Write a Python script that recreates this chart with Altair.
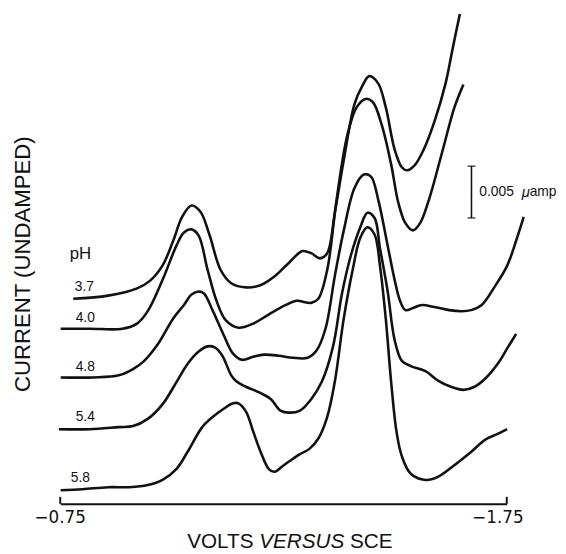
import altair as alt
import pandas as pd

# Polarographic curves: potential (V vs SCE) and current (nA, i.e. 0.001 uA)
PH = ["3.7", "4.0", "4.8", "5.4", "5.8"]

V37 = [-0.779, -0.857, -0.922, -0.950, -0.979, -1.003, -1.023, -1.044, -1.064, -1.084,
       -1.109, -1.133, -1.166, -1.198, -1.231, -1.263, -1.292, -1.312, -1.332, -1.348,
       -1.365, -1.385, -1.409, -1.426, -1.442, -1.462, -1.479, -1.499, -1.515, -1.527,
       -1.544, -1.564, -1.588, -1.613, -1.629, -1.645]
I37 = [19.8, 20.1, 20.8, 21.5, 23.0, 25.4, 27.7, 28.8, 28.2, 26.0,
       22.6, 21.3, 20.9, 21.1, 22.0, 23.3, 24.4, 24.2, 23.7, 24.2,
       28.1, 33.2, 38.6, 40.3, 41.3, 40.6, 38.3, 34.2, 32.5, 32.2,
       32.7, 34.2, 36.9, 40.6, 44.0, 47.3]

V40 = [-0.751, -0.816, -0.889, -0.922, -0.946, -0.979, -1.011, -1.027, -1.044, -1.060,
       -1.080, -1.100, -1.121, -1.149, -1.182, -1.214, -1.255, -1.279, -1.312, -1.328,
       -1.348, -1.369, -1.393, -1.414, -1.434, -1.450, -1.470, -1.491, -1.507, -1.523,
       -1.540, -1.556, -1.576, -1.605, -1.633, -1.653]
I40 = [16.9, 16.9, 16.9, 17.4, 18.6, 21.6, 25.0, 26.2, 26.5, 25.9,
       22.6, 19.6, 17.7, 17.0, 17.4, 18.2, 19.2, 19.6, 19.4, 19.8,
       22.6, 29.4, 35.6, 38.3, 39.1, 38.8, 36.6, 32.8, 29.1, 27.1,
       26.4, 27.1, 29.4, 33.9, 38.3, 40.5]

V48 = [-0.751, -0.824, -0.881, -0.913, -0.938, -0.970, -1.003, -1.027, -1.044, -1.060,
       -1.072, -1.092, -1.117, -1.137, -1.157, -1.182, -1.206, -1.239, -1.271, -1.304,
       -1.324, -1.344, -1.365, -1.385, -1.409, -1.430, -1.446, -1.462, -1.483, -1.499,
       -1.511, -1.523, -1.540, -1.560, -1.588, -1.621, -1.649, -1.670, -1.694, -1.722,
       -1.751, -1.771, -1.788]
I48 = [12.2, 12.2, 12.4, 13.0, 13.8, 15.5, 17.9, 19.2, 20.2, 20.5,
       20.3, 18.6, 16.2, 14.5, 13.9, 14.2, 14.4, 14.3, 14.1, 14.1,
       14.8, 16.9, 22.0, 26.4, 30.5, 31.8, 31.6, 29.4, 25.0, 21.6,
       19.6, 18.7, 18.9, 19.2, 19.0, 18.7, 18.6, 18.7, 19.2, 20.9,
       23.0, 25.4, 27.7]

V54 = [-0.747, -0.816, -0.881, -0.913, -0.946, -0.979, -1.011, -1.035, -1.060, -1.080,
       -1.096, -1.113, -1.133, -1.145, -1.166, -1.198, -1.222, -1.243, -1.263, -1.287,
       -1.312, -1.336, -1.361, -1.381, -1.401, -1.422, -1.438, -1.454, -1.466, -1.483,
       -1.499, -1.515, -1.535, -1.568, -1.596, -1.625, -1.653, -1.678, -1.702, -1.731,
       -1.751, -1.771]
I54 = [7.2, 7.2, 7.4, 7.5, 8.2, 9.6, 11.8, 13.5, 14.7, 15.2,
       15.1, 14.3, 12.4, 11.8, 11.3, 10.7, 10.1, 9.0, 8.8, 9.0,
       10.1, 11.8, 15.2, 20.3, 24.0, 26.7, 28.1, 27.6, 24.7, 20.6,
       15.8, 13.8, 13.3, 12.8, 11.9, 11.3, 11.0, 11.3, 12.1, 13.6,
       15.0, 16.4]

V58 = [-0.751, -0.800, -0.857, -0.905, -0.946, -0.979, -1.011, -1.035, -1.068, -1.092,
       -1.117, -1.137, -1.149, -1.166, -1.182, -1.198, -1.218, -1.231, -1.247, -1.263,
       -1.287, -1.308, -1.328, -1.348, -1.365, -1.385, -1.405, -1.422, -1.438, -1.454,
       -1.466, -1.479, -1.491, -1.503, -1.515, -1.535, -1.568, -1.596, -1.629, -1.670,
       -1.702, -1.727, -1.751]
I58 = [1.3, 1.4, 1.6, 1.6, 1.8, 2.3, 3.4, 5.0, 7.4, 8.4,
       9.2, 9.7, 9.7, 8.9, 7.0, 5.1, 3.3, 3.1, 3.6, 4.1,
       4.8, 5.3, 6.3, 8.4, 11.8, 17.9, 22.6, 25.7, 26.7, 26.0,
       23.0, 17.9, 11.8, 7.0, 4.6, 2.9, 2.3, 2.6, 3.6, 5.0,
       6.2, 6.7, 7.2]

# curve labels (anchor in volts / nA)
LABEL_V = [-0.804, -0.806, -0.806, -0.806, -0.795]
LABEL_I = [20.9, 17.9, 13.2, 8.4, 2.5]
PH_HEAD = "pH"
PH_HEAD_V, PH_HEAD_I = -0.795, 24.1

X_TICKS = [-0.75, -1.75]
X_TICK_LABELS = ["\u22120.75", "\u22121.75"]

# scale bar: 0.005 uA = 5 nA
BAR_V = -1.671
BAR_LO, BAR_HI = 27.6, 32.6

rows = []
for ph, vs, cs in zip(PH, [V37, V40, V48, V54, V58], [I37, I40, I48, I54, I58]):
    for k, (v, c) in enumerate(zip(vs, cs)):
        rows.append({"ph": ph, "v": v, "i": c, "k": k})
df = pd.DataFrame(rows)

lab_df = pd.DataFrame({"t": PH + [PH_HEAD], "v": LABEL_V + [PH_HEAD_V],
                       "i": LABEL_I + [PH_HEAD_I],
                       "s": [14] * len(PH) + [17]})
tick_df = pd.DataFrame({"v": X_TICKS, "t": X_TICK_LABELS})
bar_df = pd.DataFrame({"v": [BAR_V], "lo": [BAR_LO], "hi": [BAR_HI],
                       "mid": [(BAR_LO + BAR_HI) / 2]})
cap_df = pd.DataFrame({"v": [BAR_V, BAR_V], "i": [BAR_LO, BAR_HI]})

INK = "#111111"
FONT = "Liberation Sans"
W, H = 453, 499

xs = alt.Scale(domain=[-0.75, -1.75], nice=False, zero=False)
ys = alt.Scale(domain=[0, 47.5], nice=False, zero=False)

X = alt.X("v:Q", scale=xs,
          axis=alt.Axis(values=X_TICKS, title=None, grid=False, labels=False,
                        ticks=False, tickSize=0, domainColor=INK, domainWidth=2))
Y = alt.Y("i:Q", scale=ys, axis=None)

lines = alt.Chart(df).mark_line(interpolate="catmull-rom", strokeWidth=2.6,
                                color=INK).encode(
    x=X, y=Y, detail="ph:N", order="k:Q")

end_ticks = alt.Chart(tick_df).mark_rule(color=INK, strokeWidth=2).encode(
    x=alt.X("v:Q", scale=xs), y=alt.value(H), y2=alt.value(H - 7))

tl_left = alt.Chart(tick_df.head(1)).mark_text(
    font="DejaVu Sans", fontSize=17, color=INK, align="center",
    baseline="alphabetic").encode(
    x=alt.X("v:Q", scale=xs), y=alt.value(519), text="t:N")
tl_right = alt.Chart(tick_df.tail(1)).mark_text(
    font="DejaVu Sans", fontSize=17, color=INK, align="center",
    baseline="alphabetic", dx=-9).encode(
    x=alt.X("v:Q", scale=xs), y=alt.value(519), text="t:N")

labels = alt.Chart(lab_df).mark_text(font=FONT, color=INK, align="center",
                                     baseline="middle").encode(
    x=alt.X("v:Q", scale=xs), y=alt.Y("i:Q", scale=ys), text="t:N",
    size=alt.Size("s:Q", scale=None, legend=None))

bar = alt.Chart(bar_df).mark_rule(color=INK, strokeWidth=1.6).encode(
    x=alt.X("v:Q", scale=xs), y=alt.Y("lo:Q", scale=ys), y2="hi:Q")
caps = alt.Chart(cap_df).mark_tick(color=INK, orient="horizontal", size=8,
                                   thickness=1.6).encode(
    x=alt.X("v:Q", scale=xs), y=alt.Y("i:Q", scale=ys))
bar_t1 = alt.Chart(bar_df).mark_text(font=FONT, fontSize=14, color=INK, align="left",
                                     baseline="middle", dx=8, text="0.005").encode(
    x=alt.X("v:Q", scale=xs), y=alt.Y("mid:Q", scale=ys))
bar_t2 = alt.Chart(bar_df).mark_text(font=FONT, fontSize=15, color=INK, align="left",
                                     baseline="middle", dx=51, fontStyle="italic",
                                     text="μ").encode(
    x=alt.X("v:Q", scale=xs), y=alt.Y("mid:Q", scale=ys))
bar_t3 = alt.Chart(bar_df).mark_text(font=FONT, fontSize=14, color=INK, align="left",
                                     baseline="middle", dx=59, text="amp").encode(
    x=alt.X("v:Q", scale=xs), y=alt.Y("mid:Q", scale=ys))

ytitle = alt.Chart(tick_df.head(1)).mark_text(
    font=FONT, fontSize=22.5, color=INK, angle=270, align="center", baseline="middle",
    text="CURRENT (UNDAMPED)").encode(x=alt.value(-38), y=alt.value(256))

xt1 = alt.Chart(tick_df.head(1)).mark_text(
    font=FONT, fontSize=21, color=INK, align="right", baseline="alphabetic",
    text="VOLTS").encode(x=alt.value(196), y=alt.value(544))
xt2 = alt.Chart(tick_df.head(1)).mark_text(
    font=FONT, fontSize=21, color=INK, align="center", baseline="alphabetic",
    fontStyle="italic", text="VERSUS").encode(x=alt.value(245), y=alt.value(544))
xt3 = alt.Chart(tick_df.head(1)).mark_text(
    font=FONT, fontSize=21, color=INK, align="left", baseline="alphabetic",
    text="SCE").encode(x=alt.value(294), y=alt.value(544))

chart = alt.layer(lines, end_ticks, tl_left, tl_right, labels, bar, caps,
                  bar_t1, bar_t2, bar_t3, ytitle, xt1, xt2, xt3).properties(
    width=W, height=H,
    autosize=alt.AutoSizeParams(type="none"),
    padding={"left": 53, "top": 0, "right": 52, "bottom": 47},
).configure_view(stroke=None)

chart.save("out.html", embed_options={"renderer": "svg", "actions": False})
